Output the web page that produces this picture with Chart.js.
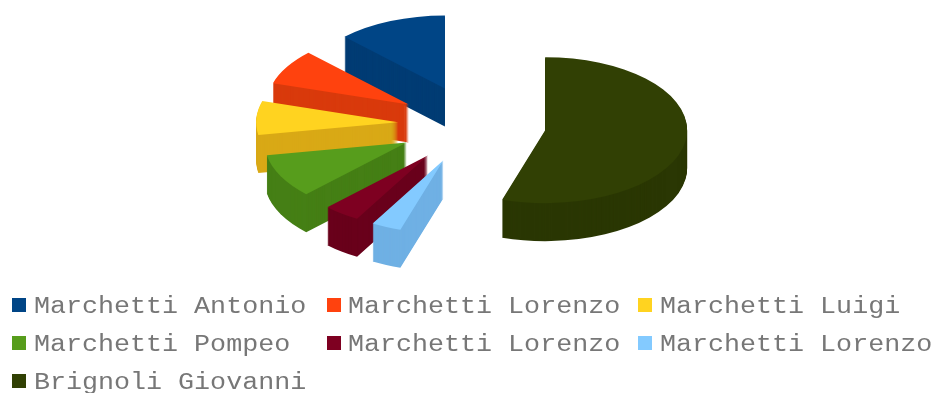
<!DOCTYPE html>
<html>
<head>
<meta charset="utf-8">
<title>Marchetti / Brignoli</title>
<script src="https://cdn.jsdelivr.net/npm/chart.js@4"></script>
<style>
  html, body { margin: 0; background: #fff; overflow: hidden; }
  #wrap { position: relative; width: 935px; height: 393px; }
  #legend span { position: absolute; white-space: nowrap; }
  #legend .box { width: 14px; height: 14px; }
  #legend .txt {
    font: 23px "Liberation Mono", monospace;
    color: #777;
    line-height: 24px;
    transform: scaleX(1.16);
    transform-origin: left center;
  }
</style>
</head>
<body>
<div id="wrap">
  <canvas id="pie" width="935" height="393"></canvas>
  <div id="legend"></div>
</div>
<script>
// slices run clockwise from 12 o'clock
const categories = ['Brignoli Giovanni', 'Marchetti Lorenzo', 'Marchetti Lorenzo', 'Marchetti Pompeo', 'Marchetti Luigi', 'Marchetti Lorenzo', 'Marchetti Antonio'];
const values = [54.9, 3.4, 4.2, 9.7, 7.5, 7.8, 12.5];
const topColors = ['#314004', '#83caff', '#7e0021', '#579d1c', '#ffd320', '#ff420e', '#004586'];
const wallColors = ['#2a3703', '#6fb0e4', '#69001b', '#457f15', '#d9a916', '#d93a0c', '#003c74'];

// 3d look
const squash = 0.514;   // y scale of the pie disc
const depth = 38;       // wall height in px
const explode = 76;     // how far each slice is pulled out
const bigExplode = 72;  // the big slice sits a little closer
const centerY = 124.5;  // where the disc centre lands on screen

const wallOptions = color => ({
    backgroundColor: color, borderColor: color, borderWidth: 0, borderAlign: 'center',
    borderRadius: 0, offset: 0, spacing: 0, circular: true
});

const pie3d = {
    id: 'pie3d',
    beforeDatasetDraw(chart, args) {
        const ctx = chart.ctx;
        const arcs = args.meta.data;
        // back to front: last category first, big slice sits on its own
        for (let i = arcs.length - 1; i >= 0; i--) {
            const arc = arcs[i];
            const mid = (arc.startAngle + arc.endAngle) / 2;
            const pull = i === 0 ? bigExplode : explode;
            const wall = Object.create(arc);
            wall.options = wallOptions(wallColors[i]);
            for (let d = depth; d >= 0; d--) {
                ctx.save();
                ctx.translate(arc.x, centerY + d);
                ctx.scale(1, squash);
                ctx.translate(Math.cos(mid) * pull, Math.sin(mid) * pull);
                ctx.translate(-arc.x, -arc.y);
                (d === 0 ? arc : wall).draw(ctx);
                ctx.restore();
            }
        }
        return false; // already drawn
    }
};

new Chart(document.getElementById('pie'), {
    type: 'pie',
    data: {
        labels: categories,
        datasets: [{ data: values, backgroundColor: topColors, borderWidth: 0 }]
    },
    options: {
        responsive: false,
        animation: false,
        rotation: 0,
        layout: { padding: { left: 332, right: 319, top: 0, bottom: 109 } },
        plugins: { legend: { display: false }, tooltip: { enabled: false } }
    },
    plugins: [pie3d]
});

// legend reads in the opposite order of the slices, three to a row
const legendBoxX = [12, 327, 638];
const legendTextX = [34, 348, 660];
const legendRowY = [305, 343, 381];
const legend = document.getElementById('legend');
categories.slice().reverse().forEach((name, i) => {
    const col = i % 3, row = Math.floor(i / 3);
    const box = document.createElement('span');
    box.className = 'box';
    box.style.left = legendBoxX[col] + 'px';
    box.style.top = (legendRowY[row] - 7) + 'px';
    box.style.background = topColors[categories.length - 1 - i];
    const txt = document.createElement('span');
    txt.className = 'txt';
    txt.textContent = name;
    txt.style.left = legendTextX[col] + 'px';
    txt.style.top = (legendRowY[row] - 10) + 'px';
    legend.append(box, txt);
});
</script>
</body>
</html>
